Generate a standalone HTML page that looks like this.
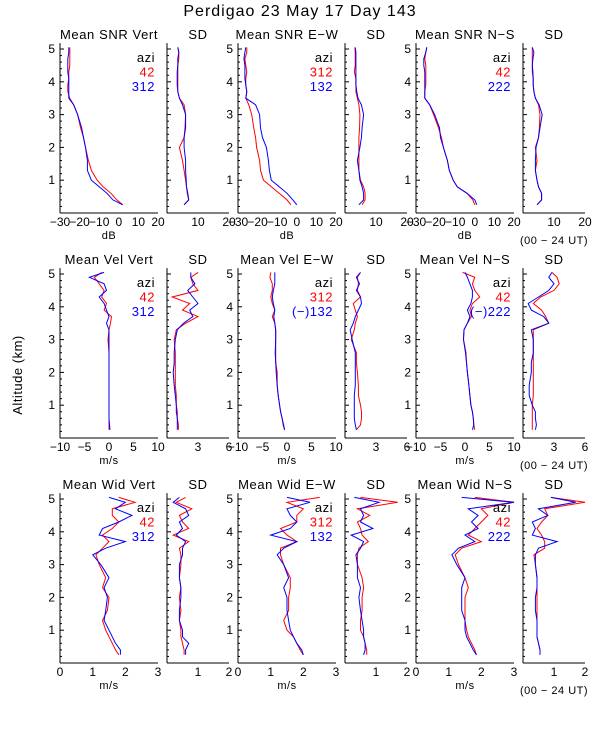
<!DOCTYPE html>
<html><head><meta charset="utf-8"><style>
body{margin:0;background:#fff}
svg{display:block;font-family:"Liberation Sans",sans-serif}
</style></head><body>
<svg id="c" width="600" height="750" xmlns="http://www.w3.org/2000/svg">
<text x="300" y="16" text-anchor="middle" font-size="16" letter-spacing="1">Perdigao  23 May 17 Day 143</text>
<text transform="translate(22,375) rotate(-90)" text-anchor="middle" font-size="13" letter-spacing="0.5">Altitude (km)</text>
</svg>
<script>
const heights=[0.25,0.4,0.6,0.8,1.0,1.3,1.6,2.0,2.3,2.6,3.0,3.3,3.5,3.7,3.9,4.1,4.3,4.5,4.7,4.9,5.05];
const snrVertRed=[2,-1,-4,-8,-11,-14,-15.5,-17,-18,-19.5,-21,-23,-25,-26,-26,-25.5,-25.5,-25,-25,-25,-25];
const snrVertBlue=[2,-3,-6,-10,-14,-16,-16,-17,-18,-19,-21,-23,-25.5,-25.5,-25.5,-25.5,-26,-26,-26,-25.5,-25.5];
const snrVertSdRed=[5.5,7,6.5,6.3,6,5.5,5,4,5.5,5.8,6,5.5,4,3.5,3.5,3.5,3.5,3.5,3.8,3.8,3.5];
const snrVertSdBlue=[5.5,7,6.7,6.3,6.2,6,6,5.5,5.5,6,6,5,4,3.5,3.3,3.3,3.3,3.5,3.5,3.8,3.5];
const snrEwRed=[-3,-5,-9,-13,-17,-18.5,-19,-20.5,-21,-22,-23,-24.5,-26,-25.5,-26,-26,-25.5,-26,-26.5,-25.5,-25.5];
const snrEwBlue=[0,-2,-5,-9,-13,-14,-14.5,-15.5,-17.5,-18.5,-19,-21,-26,-25.5,-26,-26.5,-26.5,-26.5,-27,-26.5,-26];
const snrEwSdRed=[5.5,6.5,6.5,6,5,4.5,4.5,4.5,4.5,4.7,4.8,4.5,4,3.5,3.5,3.5,3,3.3,3.3,3.3,3.2];
const snrEwSdBlue=[4.5,6,6,5.5,4.8,4.5,4,4.8,5.3,5.5,6,5.3,4.2,3.8,3.5,3.5,3.5,3.5,3.5,3.5,3.3];
const snrNsRed=[0,-1,-4,-9,-11,-13,-14,-16,-17,-18.5,-21,-23,-25.5,-25.5,-25,-25,-25,-25,-25.5,-25,-24.5];
const snrNsBlue=[1,0,-4,-9,-11,-13,-14,-16,-17.5,-18,-20.5,-23,-25.5,-25.5,-25.5,-25.5,-25.5,-26,-26,-25,-24.5];
const snrNsSdRed=[4.5,6,6,5,4.5,4,4.5,4,5,5.3,5.5,5,4,3.5,3.3,3.3,3,3,3,3,3];
const snrNsSdBlue=[4.5,6,6,5,4.5,4,4,4.2,5,5.5,6.2,5.2,4,3.5,3.3,3.3,3.2,3,3.2,3.5,3];
const velVertRed=[0,0,0,0,0,0,0,0,0,0,-0.2,0,0.3,0.5,-1,-0.5,-1.5,-1,-2,-3,-1.5];
const velVertBlue=[0.2,0.1,0,0,0,0,0,0,0,0,0,0,-0.5,0,-0.5,-1,-2,-0.5,-1,-4,-1];
const velVertSdRed=[1.1,1.1,1.0,1.0,0.9,0.9,0.8,0.8,0.8,0.8,0.7,0.9,1.8,3,1.5,2.2,0.5,3,2.5,2.3,3];
const velVertSdBlue=[1.0,1.0,1.0,0.9,0.9,0.8,0.7,0.6,0.7,0.7,0.8,1,1.6,2.5,2.2,3,2.5,2,2.7,2.3,2.3];
const velEwRed=[-0.5,-0.8,-1,-1.3,-1.5,-1.8,-2,-2,-2.3,-2.3,-2.3,-2.3,-2.5,-3,-2.5,-3,-3.3,-3,-3,-3.5,-3.3];
const velEwBlue=[-0.5,-0.7,-1,-1.3,-1.5,-1.8,-2,-2.2,-2.3,-2.4,-2.3,-2.3,-2.5,-2.7,-2.5,-2.8,-3,-2.8,-2.5,-2.5,-2.5];
const velEwSdRed=[1.1,1.5,1.6,1.6,1.5,1.3,1.3,1.2,1.1,1.1,0.6,0.9,1.0,1.2,1.0,0.8,1.5,1.2,1.3,1.2,1.5];
const velEwSdBlue=[1.1,1.0,0.9,0.9,0.9,0.9,1,1.0,1.0,1.0,0.7,0.5,0.8,1,1.3,1.6,1.5,1.1,1.4,1.1,1.5];
const velNsRed=[2,1.8,1.7,1.5,1.2,1,0.8,0.5,0.3,0.2,-0.3,-0.2,0.5,1.3,1,1.5,3,2,1.5,2,-0.5];
const velNsBlue=[1.5,1.8,1.7,1.5,1.2,1,0.8,0.5,0.3,0.1,-0.3,-0.2,0.5,1,0.5,1.2,1.5,1.5,1,0.5,0];
const velNsSdRed=[0.9,0.9,0.9,0.9,0.9,1,1,1,1,1,1,1,2.5,2.2,1.8,1,1.7,3,3.5,3.3,2.8];
const velNsSdBlue=[1.2,1.3,1.2,1.2,0.9,0.6,0.6,0.8,0.8,1,1,0.8,2.5,2,0.8,0.5,1.5,2.5,3,2.5,2.8];
const widVertRed=[1.8,1.7,1.6,1.5,1.4,1.3,1.45,1.5,1.3,1.4,1.2,1.1,1.3,1.5,1.3,1.6,1.8,1.6,1.6,2.3,1.8];
const widVertBlue=[1.85,1.85,1.7,1.6,1.5,1.35,1.4,1.45,1.35,1.5,1.25,1.0,1.4,2.0,1.2,1.3,1.8,2.2,1.7,2.0,1.5];
const widVertSdRed=[0.55,0.55,0.5,0.45,0.45,0.4,0.45,0.4,0.45,0.4,0.45,0.45,0.4,0.7,0.2,0.7,0.5,0.4,0.8,0.3,0.6];
const widVertSdBlue=[0.6,0.6,0.7,0.5,0.5,0.4,0.4,0.45,0.45,0.4,0.4,0.5,0.5,0.6,0.3,0.5,0.4,0.7,0.6,0.2,0.4];
const widEwRed=[2.0,1.9,1.8,1.7,1.5,1.4,1.55,1.55,1.6,1.6,1.4,1.3,1.3,1.8,1.5,1.3,1.8,1.8,2.0,1.5,2.5];
const widEwBlue=[2.0,1.95,1.8,1.7,1.6,1.55,1.5,1.5,1.4,1.55,1.4,1.2,1.4,1.8,1.0,1.6,1.8,1.6,1.5,2.2,1.5];
const widEwSdRed=[0.7,0.7,0.65,0.6,0.5,0.5,0.55,0.55,0.6,0.55,0.4,0.4,0.45,0.75,0.55,0.5,0.4,0.8,0.4,1.7,0.5];
const widEwSdBlue=[0.6,0.65,0.65,0.6,0.6,0.55,0.5,0.45,0.5,0.4,0.4,0.35,0.5,0.6,0.2,0.9,0.5,0.6,0.5,1.1,0.3];
const widNsRed=[1.85,1.8,1.7,1.6,1.55,1.5,1.5,1.5,1.6,1.5,1.3,1.2,1.4,2.0,1.6,1.8,2.0,2.2,2.0,3,1.8];
const widNsBlue=[1.85,1.75,1.65,1.55,1.5,1.5,1.4,1.4,1.4,1.5,1.25,1.1,1.3,1.8,1.5,1.9,1.7,1.9,1.6,3,1.4];
const widNsSdRed=[0.55,0.55,0.5,0.45,0.45,0.45,0.45,0.45,0.45,0.45,0.4,0.35,0.7,0.7,0.6,0.45,0.6,0.8,0.7,2,0.9];
const widNsSdBlue=[0.55,0.55,0.5,0.45,0.45,0.45,0.4,0.4,0.45,0.45,0.4,0.4,0.5,1.1,0.3,0.4,0.3,0.8,0.5,1.7,0.9];
const snrTicks=[-30,-20,-10,0,10,20], sdSnrTicks=[10,20];
const velTicks=[-10,-5,0,5,10], sdVelTicks=[3,6];
const widTicks=[0,1,2,3], sdWidTicks=[1,2];
const altTicks=[1,2,3,4,5];

const svg=document.getElementById('c');
const NS='http://www.w3.org/2000/svg';
function mk(tag,attrs,txt){const e=document.createElementNS(NS,tag);for(const k in attrs)e.setAttribute(k,attrs[k]);if(txt!==undefined)e.textContent=txt;svg.appendChild(e);return e;}
const cols=[{x0:60,w:98},{x0:167,w:62},{x0:238,w:98},{x0:345,w:62},{x0:416,w:98},{x0:523,w:62}];
const rowBase=[213,438,663], kmPx=32.8, topH=5.18;

function panel(row,col,xmin,xmax,ticks,title,unit,red,blue,leg,isSD){
  const c=cols[col], base=rowBase[row];
  const sx=v=>c.x0+(v-xmin)/(xmax-xmin)*c.w;
  const sy=h=>base-h*kmPx;
  const top=sy(topH);
  let e=mk('line',{x1:c.x0,y1:top,x2:c.x0,y2:base,stroke:'#000','stroke-width':1});
  
  
  e=mk('line',{x1:c.x0,y1:base,x2:c.x0+c.w,y2:base,stroke:'#000','stroke-width':1});
  
  
  for(let h=0.2;h<topH;h+=0.2){const m=Math.abs(h-Math.round(h))<0.01;
    e=mk('line',{x1:c.x0,y1:sy(h),x2:c.x0+(m?4:2),y2:sy(h),stroke:'#000','stroke-width':1});
    
    }
  if(!isSD){altTicks.forEach(t=>{e=mk('text',{x:c.x0-5,y:sy(t)+4,'text-anchor':'end','font-size':12},String(t));
    
    });}
  ticks.forEach(t=>{e=mk('text',{x:sx(t),y:base+13,'text-anchor':'middle','font-size':12},t<0?'\u2212'+(-t):String(t));
    
    });
  e=mk('text',{x:c.x0+c.w/2,y:top-4,'text-anchor':'middle','font-size':13,'letter-spacing':0.6},title);
  
  
  if(unit){e=mk('text',{x:c.x0+c.w/2,y:base+26,'text-anchor':'middle','font-size':11,'letter-spacing':0.5},unit);
    
    }
  [[red,'#f00','red-series'],[blue,'#00f','blue-series']].forEach(([d,col2,nm])=>{
    const pts=d.map((v,i)=>sx(v).toFixed(1)+','+sy(heights[i]).toFixed(1)).join(' ');
    const p=mk('polyline',{points:pts,fill:'none',stroke:col2,'stroke-width':1});
    
    
  });
  if(leg){const lx=c.x0+c.w-3;
    [['azi','#000'],[leg[0],'#f00'],[leg[1],'#00f']].forEach(([t,fc],i)=>{
      const l=mk('text',{x:lx,y:top+19+i*14.5,'text-anchor':'end','font-size':13,'letter-spacing':0.5,fill:fc},t);
      
      });}
  if(col===5){e=mk('text',{x:c.x0+c.w/2,y:base+31,'text-anchor':'middle','font-size':11,'letter-spacing':0.5},'(00 \u2212 24 UT)');
    
    }
}
panel(0,0,-30,20,snrTicks,'Mean SNR Vert','dB',snrVertRed,snrVertBlue,['42','312']);
panel(0,1,0,20,sdSnrTicks,'SD','',snrVertSdRed,snrVertSdBlue,null,true);
panel(0,2,-30,20,snrTicks,'Mean SNR E\u2212W','dB',snrEwRed,snrEwBlue,['312','132']);
panel(0,3,0,20,sdSnrTicks,'SD','',snrEwSdRed,snrEwSdBlue,null,true);
panel(0,4,-30,20,snrTicks,'Mean SNR N\u2212S','dB',snrNsRed,snrNsBlue,['42','222']);
panel(0,5,0,20,sdSnrTicks,'SD','',snrNsSdRed,snrNsSdBlue,null,true);
panel(1,0,-10,10,velTicks,'Mean Vel Vert','m/s',velVertRed,velVertBlue,['42','312']);
panel(1,1,0,6,sdVelTicks,'SD','',velVertSdRed,velVertSdBlue,null,true);
panel(1,2,-10,10,velTicks,'Mean Vel E\u2212W','m/s',velEwRed,velEwBlue,['312','(\u2212)132']);
panel(1,3,0,6,sdVelTicks,'SD','',velEwSdRed,velEwSdBlue,null,true);
panel(1,4,-10,10,velTicks,'Mean Vel N\u2212S','m/s',velNsRed,velNsBlue,['42','(\u2212)222']);
panel(1,5,0,6,sdVelTicks,'SD','',velNsSdRed,velNsSdBlue,null,true);
panel(2,0,0,3,widTicks,'Mean Wid Vert','m/s',widVertRed,widVertBlue,['42','312']);
panel(2,1,0,2,sdWidTicks,'SD','',widVertSdRed,widVertSdBlue,null,true);
panel(2,2,0,3,widTicks,'Mean Wid E\u2212W','m/s',widEwRed,widEwBlue,['312','132']);
panel(2,3,0,2,sdWidTicks,'SD','',widEwSdRed,widEwSdBlue,null,true);
panel(2,4,0,3,widTicks,'Mean Wid N\u2212S','m/s',widNsRed,widNsBlue,['42','222']);
panel(2,5,0,2,sdWidTicks,'SD','',widNsSdRed,widNsSdBlue,null,true);
</script>
</body></html>
